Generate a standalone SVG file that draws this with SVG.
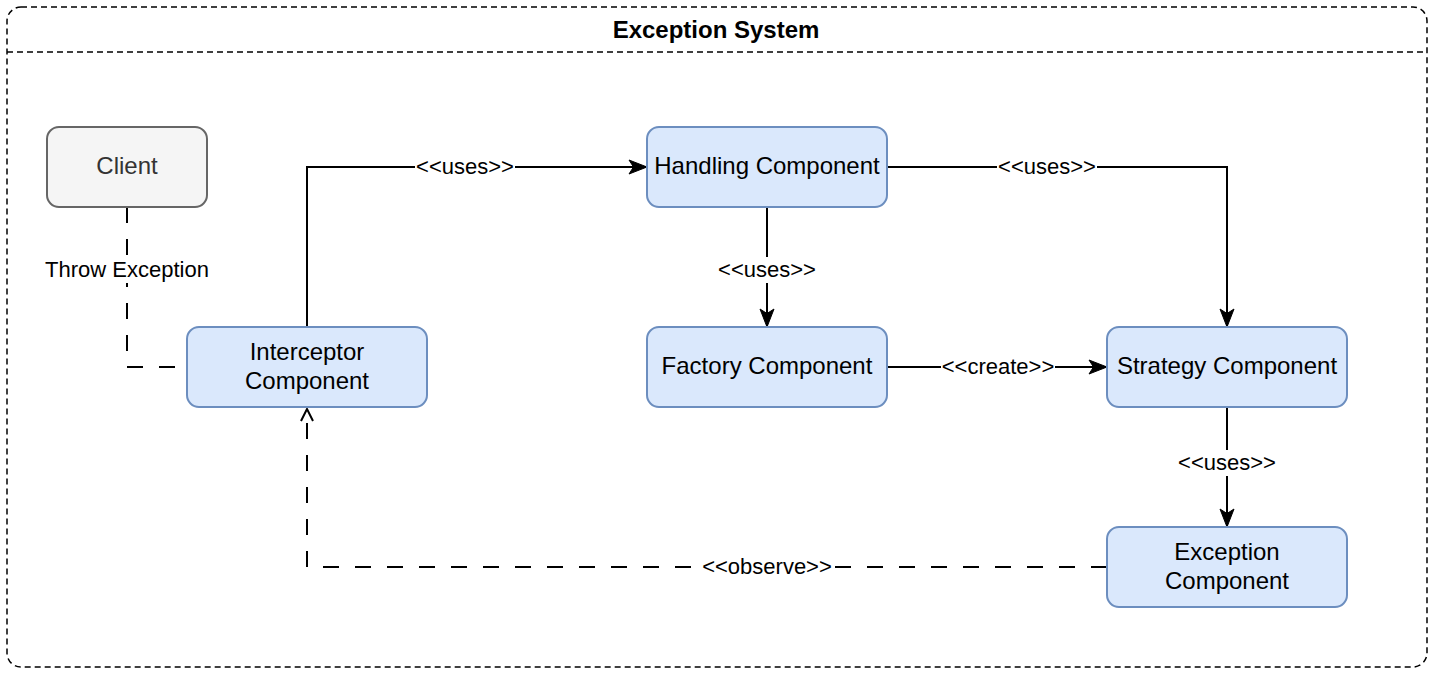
<svg xmlns="http://www.w3.org/2000/svg" width="1434" height="674" viewBox="0 0 1434 674">
<style>
.node{fill:#dae8fc;stroke:#6c8ebf;stroke-width:2}
.client{fill:#f5f5f5;stroke:#666666;stroke-width:2}
.nt{font-family:"Liberation Sans",Arial,sans-serif;font-size:24px;text-anchor:middle;fill:#000}
.lt{font-family:"Liberation Sans",Arial,sans-serif;font-size:22px;text-anchor:middle;fill:#000}
.edge{fill:none;stroke:#000;stroke-width:2}
.dash{stroke-dasharray:16 16}
.lbg{fill:#fff}
</style>
<defs>
<marker id="arrow" markerUnits="userSpaceOnUse" markerWidth="20" markerHeight="16" viewBox="0 0 20 16" refX="19" refY="8" orient="auto">
<path d="M1,1 L19,8 L1,15 L5.5,8 Z" fill="#000" stroke="#000" stroke-width="1"/>
</marker>
<marker id="open" markerUnits="userSpaceOnUse" markerWidth="16" markerHeight="16" viewBox="0 0 16 16" refX="14" refY="8" orient="auto">
<path d="M2,2 L14,8 L2,14" fill="none" stroke="#000" stroke-width="2"/>
</marker>
</defs>
<rect width="1434" height="674" fill="#fff"/>
<g id="container">
<rect x="7" y="7" width="1420" height="660" rx="14" fill="none" stroke="#000" stroke-width="1.5" stroke-dasharray="6 4"/>
<line x1="7" y1="52" x2="1427" y2="52" stroke="#000" stroke-width="1.5" stroke-dasharray="6 4"/>
<text x="716" y="38" class="nt" font-weight="bold">Exception System</text>
</g>
<g id="connectors">
<path class="edge dash" d="M127,207 L127,367 L187,367"/>
<path class="edge" d="M307,327 L307,167 L647,167" marker-end="url(#arrow)"/>
<path class="edge" d="M887,167 L1227,167 L1227,327" marker-end="url(#arrow)"/>
<path class="edge" d="M767,207 L767,327" marker-end="url(#arrow)"/>
<path class="edge" d="M887,367 L1107,367" marker-end="url(#arrow)"/>
<path class="edge" d="M1227,407 L1227,527" marker-end="url(#arrow)"/>
<path class="edge dash" d="M1107,567 L307,567 L307,409" marker-end="url(#open)"/>
<g id="edge-labels">
<rect class="lbg" x="45" y="257" width="164" height="26"/>
<text class="lt" x="127" y="277">Throw Exception</text>
<rect class="lbg" x="415" y="154" width="100" height="26"/>
<text class="lt" x="465" y="174">&lt;&lt;uses&gt;&gt;</text>
<rect class="lbg" x="997" y="154" width="100" height="26"/>
<text class="lt" x="1047" y="174">&lt;&lt;uses&gt;&gt;</text>
<rect class="lbg" x="717" y="257" width="100" height="26"/>
<text class="lt" x="767" y="277">&lt;&lt;uses&gt;&gt;</text>
<rect class="lbg" x="941" y="354" width="114" height="26"/>
<text class="lt" x="998" y="374">&lt;&lt;create&gt;&gt;</text>
<rect class="lbg" x="1177" y="450" width="100" height="26"/>
<text class="lt" x="1227" y="470">&lt;&lt;uses&gt;&gt;</text>
<rect class="lbg" x="700" y="554" width="134" height="26"/>
<text class="lt" x="767" y="574">&lt;&lt;observe&gt;&gt;</text>
</g>
</g>
<g id="client">
<rect class="client" x="47" y="127" width="160" height="80" rx="12"/>
<text class="nt" x="127" y="174.4" style="fill:#333333">Client</text>
</g>
<g id="interceptor">
<rect class="node" x="187" y="327" width="240" height="80" rx="12"/>
<text class="nt" x="307" y="360">Interceptor</text>
<text class="nt" x="307" y="389">Component</text>
</g>
<g id="handling">
<rect class="node" x="647" y="127" width="240" height="80" rx="12"/>
<text class="nt" x="767" y="174.4">Handling Component</text>
</g>
<g id="factory">
<rect class="node" x="647" y="327" width="240" height="80" rx="12"/>
<text class="nt" x="767" y="374.4">Factory Component</text>
</g>
<g id="strategy">
<rect class="node" x="1107" y="327" width="240" height="80" rx="12"/>
<text class="nt" x="1227" y="374.4">Strategy Component</text>
</g>
<g id="exception">
<rect class="node" x="1107" y="527" width="240" height="80" rx="12"/>
<text class="nt" x="1227" y="560">Exception</text>
<text class="nt" x="1227" y="589">Component</text>
</g>
</svg>
